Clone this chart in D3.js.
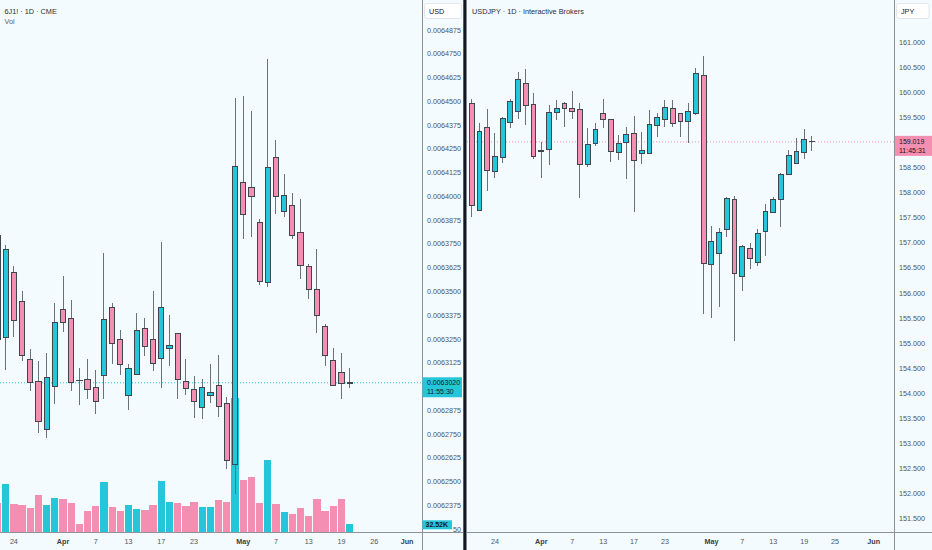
<!DOCTYPE html>
<html>
<head>
<meta charset="utf-8">
<script src="https://cdn.jsdelivr.net/npm/d3@7"></script>
<style>
  body { margin: 0; background: #f4fbfe; }
  svg { display: block; font-family: "Liberation Sans", Arial, sans-serif; }
</style>
</head>
<body>
<svg id="chart" width="932" height="550"></svg>
<script>
/* DATA */
// 6J1! daily bars, first one is cut by the left edge
const leftOpen = [0.0063797, 0.0063259, 0.0063601, 0.0063446, 0.0063143, 0.0063025, 0.0062775, 0.0062998, 0.0063406, 0.0063359,
  0.0063033, 0.0063035, 0.0062996, 0.0063059, 0.0063417, 0.0063248, 0.0062952, 0.0063064, 0.0063306, 0.0063245,
  0.0063145, 0.0063199, 0.0063280, 0.0063029, 0.0062987, 0.0062891, 0.0062954, 0.0063007, 0.0062912, 0.0062588,
  0.0064074, 0.0064046, 0.0063864, 0.0063548, 0.0064204, 0.0063923, 0.0063953, 0.0063809, 0.0063630, 0.0063513,
  0.0063317, 0.0063138, 0.0063075, 0.0063020];
const leftHigh = [0.0063865, 0.0063744, 0.0063634, 0.0063502, 0.0063199, 0.0063134, 0.0063175, 0.0063438, 0.0063581, 0.0063455,
  0.0063099, 0.0063145, 0.0063087, 0.0063701, 0.0063438, 0.0063297, 0.0063119, 0.0063385, 0.0063360, 0.0063502,
  0.0063760, 0.0063376, 0.0063282, 0.0063145, 0.0063057, 0.0063038, 0.0063119, 0.0063166, 0.0062947, 0.0064516,
  0.0064528, 0.0064449, 0.0063880, 0.0064721, 0.0064297, 0.0064118, 0.0064016, 0.0063985, 0.0063645, 0.0063723,
  0.0063329, 0.0063201, 0.0063178, 0.0063099];
const leftLow = [0.0063203, 0.0063087, 0.0063262, 0.0063136, 0.0062977, 0.0062757, 0.0062728, 0.0062908, 0.0063288, 0.0062977,
  0.0062905, 0.0062935, 0.0062854, 0.0062935, 0.0063117, 0.0063061, 0.0062877, 0.0063060, 0.0063162, 0.0063080,
  0.0062991, 0.0063110, 0.0062935, 0.0062956, 0.0062833, 0.0062828, 0.0062912, 0.0062838, 0.0062566, 0.0062433,
  0.0063776, 0.0063785, 0.0063534, 0.0063522, 0.0063907, 0.0063893, 0.0063774, 0.0063564, 0.0063459, 0.0063280,
  0.0063108, 0.0063007, 0.0062935, 0.0062991];
const leftClose = [0.0063245, 0.0063723, 0.0063348, 0.0063164, 0.0063024, 0.0062814, 0.0063049, 0.0063338, 0.0063338, 0.0063024,
  0.0063032, 0.0062987, 0.0062924, 0.0063355, 0.0063227, 0.0063115, 0.0063096, 0.0063296, 0.0063210, 0.0063119,
  0.0063417, 0.0063218, 0.0063035, 0.0062989, 0.0062922, 0.0062996, 0.0062970, 0.0062894, 0.0062610, 0.0064158,
  0.0063904, 0.0063997, 0.0063551, 0.0064153, 0.0063998, 0.0064006, 0.0063793, 0.0063639, 0.0063511, 0.0063375,
  0.0063161, 0.0063008, 0.0063017, 0.0063020];
// volume in thousands of contracts
const leftVolume = [127, 208, 122, 117, 103, 163, 116, 147, 144, 126,
  33, 91, 113, 217, 107, 91, 117, 100, 95, 117,
  223, 129, 126, 113, 129, 110, 110, 139, 132, 587,
  226, 239, 127, 316, 122, 88, 78, 103, 69, 144,
  91, 113, 142, 32.52];

// USDJPY daily bars
const rightOpen = [159.782, 157.644, 159.310, 158.431, 158.703, 159.402, 159.630, 160.189, 159.756, 158.843,
  158.857, 159.610, 159.795, 159.690, 159.656, 158.571, 158.982, 159.582, 159.456, 158.811,
  159.010, 159.190, 158.791, 158.783, 159.350, 159.470, 159.690, 159.590, 159.430, 159.576,
  160.349, 156.573, 156.793, 157.259, 157.872, 156.326, 156.893, 156.613, 157.219, 157.612,
  157.858, 158.363, 158.591, 158.811, 159.036];
const rightHigh = [159.875, 159.402, 159.676, 159.202, 159.522, 159.869, 160.421, 160.469, 159.989, 159.010,
  159.756, 159.855, 159.809, 160.041, 159.789, 159.302, 159.390, 159.875, 159.460, 159.162,
  159.316, 159.542, 159.216, 159.650, 159.590, 159.855, 159.855, 159.596, 159.795, 160.489,
  160.734, 157.338, 157.304, 157.924, 157.938, 156.965, 157.005, 157.278, 157.778, 157.924,
  158.403, 158.857, 159.102, 159.270, 159.136];
const rightLow = [157.524, 157.638, 158.038, 158.291, 158.603, 159.302, 159.476, 159.350, 158.677, 158.291,
  158.563, 159.456, 159.322, 159.482, 157.904, 158.511, 158.942, 159.302, 158.623, 158.657,
  158.283, 157.612, 158.577, 158.775, 159.122, 159.310, 159.322, 159.122, 158.990, 159.556,
  155.575, 155.507, 155.726, 157.113, 155.047, 156.040, 156.473, 156.545, 156.745, 157.592,
  157.324, 158.357, 158.585, 158.677, 158.843];
const rightClose = [157.752, 159.236, 158.451, 158.717, 159.482, 159.821, 160.269, 159.750, 158.731, 158.843,
  159.602, 159.676, 159.690, 159.630, 158.577, 158.970, 159.276, 159.470, 158.817, 158.990,
  159.170, 158.637, 158.837, 159.376, 159.496, 159.710, 159.390, 159.430, 159.622, 160.381,
  156.593, 157.033, 157.213, 157.884, 156.393, 156.925, 156.693, 157.193, 157.632, 157.872,
  158.377, 158.751, 158.831, 159.070, 159.019];

// price scale labels
const leftTicks = ["0.0064875", "0.0064750", "0.0064625", "0.0064500", "0.0064375", "0.0064250", "0.0064125",
  "0.0064000", "0.0063875", "0.0063750", "0.0063625", "0.0063500", "0.0063375", "0.0063250", "0.0063125",
  "0.0063000", "0.0062875", "0.0062750", "0.0062625", "0.0062500", "0.0062375", "0.0062250"];
const rightTicks = ["161.000", "160.500", "160.000", "159.500", "159.000", "158.500", "158.000", "157.500",
  "157.000", "156.500", "156.000", "155.500", "155.000", "154.500", "154.000", "153.500", "153.000",
  "152.500", "152.000", "151.500"];

// time scale labels (bar index, text)
const leftDateIdx = [2, 8, 12, 16, 20, 24, 30, 34, 38, 42, 46, 50];
const leftDateText = ["24", "Apr", "7", "13", "17", "23", "May", "7", "13", "19", "26", "Jun"];
const rightDateIdx = [3, 9, 13, 17, 21, 25, 31, 35, 39, 43, 47, 52];
const rightDateText = ["24", "Apr", "7", "13", "17", "23", "May", "7", "13", "19", "25", "Jun"];
const months = ["Apr", "May", "Jun"];

const leftLast = 0.0063020;
const rightLast = 159.019;

/* STYLE */
const UP = "#26c6da";
const DOWN = "#f48fb1";
const BORDER = "#41454e";
const WICK = "#6e7079";
const AXIS = "#8e9199";
const TEXT = "#50535e";

const svg = d3.select("#chart");
svg.append("rect").attr("width", 932).attr("height", 550).attr("fill", "#f4fbfe");

const defs = svg.append("defs");
defs.append("clipPath").attr("id", "clipL").append("rect").attr("x", 0).attr("y", 0).attr("width", 422).attr("height", 532);
defs.append("clipPath").attr("id", "clipR").append("rect").attr("x", 467).attr("y", 0).attr("width", 427).attr("height", 532);

/* SCALES */
const xL = d3.scaleLinear().domain([0, 43]).range([-2.5, 349.7]);
const yL = d3.scaleLinear().domain([0.0062250, 0.0064875]).range([529.2, 30]);
const vL = d3.scaleLinear().domain([0, 1000]).range([531.7, 304.1]);
const xR = d3.scaleLinear().domain([0, 44]).range([471.7, 811.9]);
const yR = d3.scaleLinear().domain([151.5, 161]).range([518.3, 42.7]);

function drawVolume(g, vol, open, close, x, y, w) {
  g.append("g").selectAll("rect").data(d3.range(vol.length)).join("rect")
    .attr("x", i => x(i) - w / 2)
    .attr("y", i => y(vol[i]))
    .attr("width", w)
    .attr("height", i => y(0) - y(vol[i]))
    .attr("fill", i => close[i] >= open[i] ? UP : DOWN)
    .attr("shape-rendering", "crispEdges");
}

function drawCandles(g, open, high, low, close, x, y, bodyW) {
  const idx = d3.range(open.length);
  // wicks first so bodies sit on top
  g.append("g").selectAll("line").data(idx).join("line")
    .attr("x1", i => x(i)).attr("x2", i => x(i))
    .attr("y1", i => y(high[i])).attr("y2", i => y(low[i]))
    .attr("stroke", WICK).attr("stroke-width", 1)
    .attr("shape-rendering", "crispEdges");
  g.append("g").selectAll("rect").data(idx).join("rect")
    .attr("x", i => x(i) - bodyW / 2)
    .attr("y", i => y(Math.max(open[i], close[i])))
    .attr("width", bodyW)
    .attr("height", i => Math.max(0.5, Math.abs(y(open[i]) - y(close[i]))))
    .attr("fill", i => close[i] >= open[i] ? UP : DOWN)
    .attr("stroke", BORDER).attr("stroke-width", 1)
    .attr("shape-rendering", "crispEdges");
}

/* LEFT PANE */
const left = svg.append("g").attr("clip-path", "url(#clipL)");
drawVolume(left, leftVolume, leftOpen, leftClose, xL, vL, 7.3);
left.append("line")
  .attr("x1", 0).attr("x2", 422)
  .attr("y1", yL(leftLast)).attr("y2", yL(leftLast))
  .attr("stroke", UP).attr("stroke-width", 1).attr("stroke-dasharray", "1,2");
drawCandles(left, leftOpen, leftHigh, leftLow, leftClose, xL, yL, 5.2);

/* RIGHT PANE */
const right = svg.append("g").attr("clip-path", "url(#clipR)");
right.append("line")
  .attr("x1", 467).attr("x2", 894)
  .attr("y1", yR(rightLast)).attr("y2", yR(rightLast))
  .attr("stroke", DOWN).attr("stroke-width", 1).attr("stroke-dasharray", "1,2");
drawCandles(right, rightOpen, rightHigh, rightLow, rightClose, xR, yR, 4.8);

/* AXES */
const axes = svg.append("g").attr("shape-rendering", "crispEdges");
axes.append("line").attr("x1", 422.5).attr("x2", 422.5).attr("y1", 0).attr("y2", 550).attr("stroke", AXIS);
axes.append("line").attr("x1", 894.5).attr("x2", 894.5).attr("y1", 0).attr("y2", 550).attr("stroke", AXIS);
axes.append("line").attr("x1", 0).attr("x2", 463).attr("y1", 532.5).attr("y2", 532.5).attr("stroke", AXIS);
axes.append("line").attr("x1", 467).attr("x2", 932).attr("y1", 532.5).attr("y2", 532.5).attr("stroke", AXIS);

// ticks hidden behind the last price tag are not drawn
const leftTickText = svg.append("g").selectAll("text")
  .data(leftTicks.filter(d => Math.abs(yL(+d) - yL(leftLast)) > 12)).join("text")
  .attr("x", 427).attr("y", d => yL(+d) + 2.5)
  .attr("font-size", 7.2).attr("fill", TEXT)
  .text(d => d);
svg.append("g").selectAll("text")
  .data(rightTicks.filter(d => Math.abs(yR(+d) - yR(rightLast)) > 12)).join("text")
  .attr("x", 899).attr("y", d => yR(+d) + 2.5)
  .attr("font-size", 7.2).attr("fill", TEXT)
  .text(d => d);

// lowest left tick is covered by the volume tag, only its last digits peek out
leftTickText.filter(d => d === "0.0062250").each(function (d) {
  const head = this.getSubStringLength(0, d.length - 2);
  d3.select(this).attr("x", 427 + head).text(d.slice(-2));
});

svg.append("g").selectAll("text").data(leftDateIdx).join("text")
  .attr("x", i => xL(i)).attr("y", 544)
  .attr("text-anchor", "middle").attr("font-size", 7.2)
  .attr("fill", (i, k) => months.includes(leftDateText[k]) ? "#3a3d45" : TEXT)
  .attr("font-weight", (i, k) => months.includes(leftDateText[k]) ? "bold" : "normal")
  .text((i, k) => leftDateText[k]);
svg.append("g").selectAll("text").data(rightDateIdx).join("text")
  .attr("x", i => xR(i)).attr("y", 544)
  .attr("text-anchor", "middle").attr("font-size", 7.2)
  .attr("fill", (i, k) => months.includes(rightDateText[k]) ? "#3a3d45" : TEXT)
  .attr("font-weight", (i, k) => months.includes(rightDateText[k]) ? "bold" : "normal")
  .text((i, k) => rightDateText[k]);

/* LABELS */
// last price tags
svg.append("rect").attr("x", 422.5).attr("y", yL(leftLast) - 5.5).attr("width", 39.5).attr("height", 20).attr("fill", UP);
svg.append("text").attr("x", 427).attr("y", yL(leftLast) + 1.8).attr("font-size", 7).attr("fill", "#131722").text("0.0063020");
svg.append("text").attr("x", 427).attr("y", yL(leftLast) + 11).attr("font-size", 7).attr("fill", "#131722").text("11:55:30");

svg.append("rect").attr("x", 895).attr("y", yR(rightLast) - 6).attr("width", 37).attr("height", 20).attr("fill", DOWN);
svg.append("text").attr("x", 899).attr("y", yR(rightLast) + 1.8).attr("font-size", 7).attr("fill", "#131722").text("159.019");
svg.append("text").attr("x", 899).attr("y", yR(rightLast) + 11).attr("font-size", 7).attr("fill", "#131722").text("11:45:31");

// volume tag
svg.append("rect").attr("x", 422.5).attr("y", vL(32.52) - 4).attr("width", 29.5).attr("height", 9).attr("fill", UP);
svg.append("text").attr("x", 425.5).attr("y", vL(32.52) + 2.7).attr("font-size", 7).attr("font-weight", "bold").attr("fill", "#131722").text("32.52K");

// currency boxes
svg.append("rect").attr("x", 424.5).attr("y", 3.5).attr("width", 37).attr("height", 15).attr("rx", 2)
  .attr("fill", "#ffffff").attr("stroke", "#e2e5ea");
svg.append("text").attr("x", 429).attr("y", 13.5).attr("font-size", 7.2).attr("fill", "#131722").text("USD");
svg.append("rect").attr("x", 896.5).attr("y", 3.5).attr("width", 32.5).attr("height", 15).attr("rx", 2)
  .attr("fill", "#ffffff").attr("stroke", "#e2e5ea");
svg.append("text").attr("x", 901).attr("y", 13.5).attr("font-size", 7.2).attr("fill", "#131722").text("JPY");

// pane titles
svg.append("text").attr("x", 4.5).attr("y", 13.5).attr("font-size", 7.3).attr("fill", "#2a2e39").text("6J1! · 1D · CME");
svg.append("text").attr("x", 4.5).attr("y", 24).attr("font-size", 7.3).attr("fill", "#5d606b").text("Vol");
svg.append("text").attr("x", 472).attr("y", 13.5).attr("font-size", 7.3).attr("fill", "#2a2e39").text("USDJPY · 1D · Interactive Brokers");

// divider between the two charts
svg.append("rect").attr("x", 463.3).attr("y", 0).attr("width", 3.2).attr("height", 550).attr("fill", "#131722");
</script>
</body>
</html>
